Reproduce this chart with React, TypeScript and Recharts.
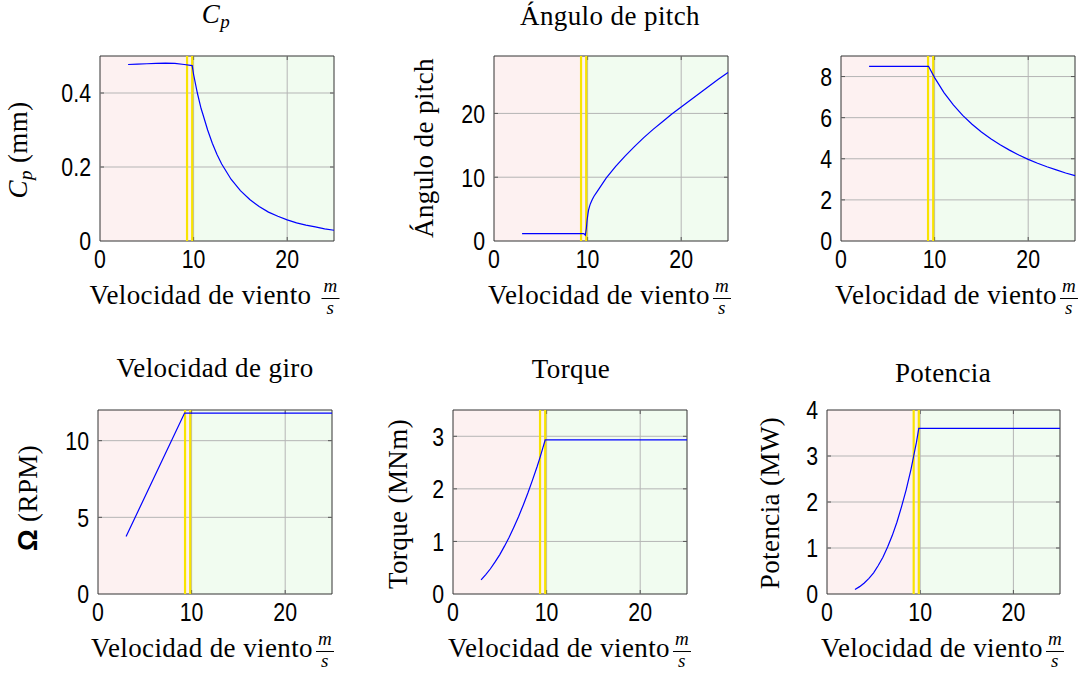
import React from 'react';
import { LineChart, Line, XAxis, YAxis, ReferenceArea, ReferenceLine } from 'recharts';

// wind speed (m/s) vs each quantity
const cpWind = [3, 4, 5, 6, 7, 8, 9, 9.85, 10, 10.4, 10.8, 11, 11.5, 12, 12.5, 13, 14, 15, 16, 17, 18, 19, 20, 21, 22, 23, 24, 25];
const cpValues = [0.477, 0.478, 0.479, 0.48, 0.481, 0.48, 0.477, 0.474, 0.45, 0.4, 0.358, 0.342, 0.3, 0.264, 0.234, 0.208, 0.167, 0.136, 0.112, 0.093, 0.078, 0.067, 0.057, 0.049, 0.043, 0.038, 0.033, 0.029];

const pitchWind = [3, 9.6, 9.76, 9.87, 9.95, 10.04, 10.1, 10.2, 10.3, 10.5, 10.7, 11, 11.5, 12, 13, 14, 15, 16, 17, 18, 19, 20, 21, 22, 23, 24, 25];
const pitchValues = [1.15, 1.15, 0.9, 2.0, 3.3, 4.3, 4.85, 5.4, 5.85, 6.5, 7.05, 7.7, 8.8, 9.9, 11.7, 13.3, 14.8, 16.2, 17.5, 18.7, 19.9, 21.0, 22.1, 23.2, 24.3, 25.4, 26.4];

const tsrWind = [3, 9.35, 10, 11, 12, 13, 14, 15, 16, 17, 18, 19, 20, 21, 22, 23, 24, 25];
const tsrValues = [8.5, 8.5, 7.95, 7.22, 6.62, 6.11, 5.68, 5.3, 4.97, 4.68, 4.42, 4.18, 3.97, 3.78, 3.61, 3.46, 3.31, 3.18];

const omegaWind = [3, 9.25, 25];
const omegaValues = [3.75, 11.8, 11.8];

const torqueWind = [3, 3.5, 4, 4.5, 5, 5.5, 6, 6.5, 7, 7.5, 8, 8.5, 9, 9.3, 9.6, 9.85, 25];
const torqueValues = [0.27, 0.37, 0.48, 0.61, 0.75, 0.91, 1.08, 1.27, 1.47, 1.69, 1.92, 2.17, 2.43, 2.6, 2.78, 2.93, 2.93];

const powerWind = [3, 3.5, 4, 4.5, 5, 5.5, 6, 6.5, 7, 7.5, 8, 8.5, 9, 9.3, 9.6, 9.85, 25];
const powerValues = [0.1, 0.16, 0.24, 0.34, 0.46, 0.62, 0.8, 1.02, 1.27, 1.56, 1.9, 2.27, 2.7, 3.0, 3.3, 3.6, 3.6];

const xTicks = [0, 10, 20];
const markers = [9.3, 9.85];
const regionSplit = 9.85;

const PINK = '#fdf1f1';
const GREEN = '#f1fcf0';
const YELLOW = '#f8e400';
const GRID = '#b5b5b5';
const SERIF = "'Liberation Serif', 'Times New Roman', serif";
const SANS = "'Liberation Sans', Arial, sans-serif";

type Box = { left: number; top: number; right: number; bottom: number };

const padL = 70, padT = 20, padR = 14, padB = 40;

// condensed tick text, like the narrow sans of the original
function Tick(props: any) {
  const { x, y, payload, textAnchor, vertical } = props;
  const dy = vertical ? 9.3 : 27;
  return (
    <text transform={`translate(${x},${y + dy}) scale(0.82,1)`} textAnchor={textAnchor}
      fontSize={26} fontFamily={SANS} fill="#000">{payload.value}</text>
  );
}

function Panel({ box, yDomain, yTicks, wind, values }: {
  box: Box; yDomain: [number, number]; yTicks: number[]; wind: number[]; values: number[];
}) {
  const pw = box.right - box.left;
  const ph = box.bottom - box.top;
  const w = pw + padL + padR;
  const h = ph + padT + padB;
  const data = wind.map((v, i) => ({ v, y: values[i] }));
  const span = yDomain[1] - yDomain[0];
  const tx = (4 / pw) * 25;
  const ty = (4 / ph) * span;
  const inner = yTicks.filter(t => t > yDomain[0] && t < yDomain[1]);
  const innerX = xTicks.filter(t => t > 0);
  return (
    <div style={{ position: 'absolute', left: box.left - padL, top: box.top - padT }}>
      <LineChart width={w} height={h} data={data} margin={{ top: padT, right: padR, bottom: 0, left: 0 }}>
        <XAxis type="number" dataKey="v" domain={[0, 25]} ticks={xTicks} interval={0}
          tick={<Tick />} tickLine={false} axisLine={false} tickSize={0} tickMargin={0} height={padB} />
        <YAxis type="number" domain={yDomain} ticks={yTicks} interval={0} width={padL}
          tick={<Tick vertical />} tickLine={false} axisLine={false} tickSize={0} tickMargin={9} />
        <ReferenceArea x1={0} x2={regionSplit} y1={yDomain[0]} y2={yDomain[1]} fill={PINK} fillOpacity={1} stroke="none" />
        <ReferenceArea x1={regionSplit} x2={25} y1={yDomain[0]} y2={yDomain[1]} fill={GREEN} fillOpacity={1} stroke="none" />
        {inner.map(t => <ReferenceLine key={'gy' + t} y={t} stroke={GRID} strokeWidth={1} />)}
        {innerX.map(t => <ReferenceLine key={'gx' + t} x={t} stroke={GRID} strokeWidth={1} />)}
        {inner.map(t => (
          <ReferenceLine key={'ty' + t} segment={[{ x: 0, y: t }, { x: tx, y: t }]} stroke="#555" strokeWidth={1} />
        ))}
        {inner.map(t => (
          <ReferenceLine key={'tyr' + t} segment={[{ x: 25 - tx, y: t }, { x: 25, y: t }]} stroke="#555" strokeWidth={1} />
        ))}
        {innerX.map(t => (
          <ReferenceLine key={'tx' + t} segment={[{ x: t, y: yDomain[0] }, { x: t, y: yDomain[0] + ty }]} stroke="#555" strokeWidth={1} />
        ))}
        {innerX.map(t => (
          <ReferenceLine key={'txt' + t} segment={[{ x: t, y: yDomain[1] - ty }, { x: t, y: yDomain[1] }]} stroke="#555" strokeWidth={1} />
        ))}
        {markers.map(m => <ReferenceLine key={'m' + m} x={m} stroke={YELLOW} strokeWidth={2.2} />)}
        <Line type="linear" dataKey="y" stroke="#0000ff" strokeWidth={1.2} dot={false} isAnimationActive={false} />
        <ReferenceArea x1={0} x2={25} y1={yDomain[0]} y2={yDomain[1]} fill="none" stroke="#333" strokeWidth={1} />
      </LineChart>
    </div>
  );
}

function Title({ x, baseline, children }: { x: number; baseline: number; children: React.ReactNode }) {
  return (
    <div style={{
      position: 'absolute', left: x, top: baseline - 22.6, transform: 'translateX(-50%)',
      fontFamily: SERIF, fontSize: 27, lineHeight: '27px', letterSpacing: 0.4, whiteSpace: 'nowrap', color: '#000',
    }}>{children}</div>
  );
}

function YLabel({ x, y, children }: { x: number; y: number; children: React.ReactNode }) {
  return (
    <div style={{
      position: 'absolute', left: x, top: y, transform: 'translate(-50%, -50%) rotate(-90deg)',
      fontFamily: SERIF, fontSize: 27, lineHeight: '27px', letterSpacing: 0.4, whiteSpace: 'nowrap', color: '#000',
    }}>{children}</div>
  );
}

function Cp() {
  return (
    <span>
      <span style={{ fontStyle: 'italic' }}>C</span>
      <span style={{ fontStyle: 'italic', fontSize: 19, verticalAlign: '-5px' }}>p</span>
    </span>
  );
}

function Fraction() {
  return (
    <span style={{ display: 'inline-block', position: 'relative', width: 20, height: 0 }}>
      <span style={{ position: 'absolute', left: 0, width: 20, top: -28, fontSize: 19, lineHeight: '19px', fontStyle: 'italic', textAlign: 'center' }}>m</span>
      <span style={{ position: 'absolute', left: 1, width: 18, top: -6, height: 1, background: '#000' }} />
      <span style={{ position: 'absolute', left: 0, width: 20, top: -6, fontSize: 19, lineHeight: '19px', fontStyle: 'italic', textAlign: 'center' }}>s</span>
    </span>
  );
}

function XLabel({ x, baseline, gap }: { x: number; baseline: number; gap: number }) {
  return (
    <Title x={x} baseline={baseline}>
      Velocidad de viento<span style={{ display: 'inline-block', width: gap }} /><Fraction />
    </Title>
  );
}

const boxes: Box[] = [
  { left: 100, top: 56, right: 334, bottom: 241 },
  { left: 494, top: 56, right: 728, bottom: 241 },
  { left: 841, top: 56, right: 1075, bottom: 241 },
  { left: 98, top: 410, right: 332, bottom: 594 },
  { left: 453, top: 410, right: 687, bottom: 594 },
  { left: 827, top: 410, right: 1060, bottom: 594 },
];

export default function App() {
  return (
    <div style={{ position: 'absolute', left: 0, top: 0, width: 1086, height: 673, background: '#fff', overflow: 'hidden' }}>
      <Panel box={boxes[0]} yDomain={[0, 0.5]} yTicks={[0, 0.2, 0.4]} wind={cpWind} values={cpValues} />
      <Panel box={boxes[1]} yDomain={[0, 29]} yTicks={[0, 10, 20]} wind={pitchWind} values={pitchValues} />
      <Panel box={boxes[2]} yDomain={[0, 9]} yTicks={[0, 2, 4, 6, 8]} wind={tsrWind} values={tsrValues} />
      <Panel box={boxes[3]} yDomain={[0, 12]} yTicks={[0, 5, 10]} wind={omegaWind} values={omegaValues} />
      <Panel box={boxes[4]} yDomain={[0, 3.5]} yTicks={[0, 1, 2, 3]} wind={torqueWind} values={torqueValues} />
      <Panel box={boxes[5]} yDomain={[0, 4]} yTicks={[0, 1, 2, 3, 4]} wind={powerWind} values={powerValues} />

      <Title x={216} baseline={24}><Cp /></Title>
      <Title x={610} baseline={26}>Ángulo de pitch</Title>
      <Title x={215} baseline={378}>Velocidad de giro</Title>
      <Title x={571} baseline={379}>Torque</Title>
      <Title x={943} baseline={383}>Potencia</Title>

      <YLabel x={22} y={150}><Cp /> (mm)</YLabel>
      <YLabel x={424} y={148}>Ángulo de pitch</YLabel>
      <YLabel x={28} y={498}><span style={{ fontFamily: SANS, fontWeight: 'bold' }}>Ω</span> (RPM)</YLabel>
      <YLabel x={398} y={504}>Torque (MNm)</YLabel>
      <YLabel x={770} y={503}>Potencia (MW)</YLabel>

      <XLabel x={215} baseline={305} gap={9} />
      <XLabel x={610} baseline={305} gap={2} />
      <XLabel x={957} baseline={305} gap={2} />
      <XLabel x={213} baseline={658} gap={2} />
      <XLabel x={570} baseline={658} gap={2} />
      <XLabel x={943} baseline={658} gap={2} />
    </div>
  );
}
